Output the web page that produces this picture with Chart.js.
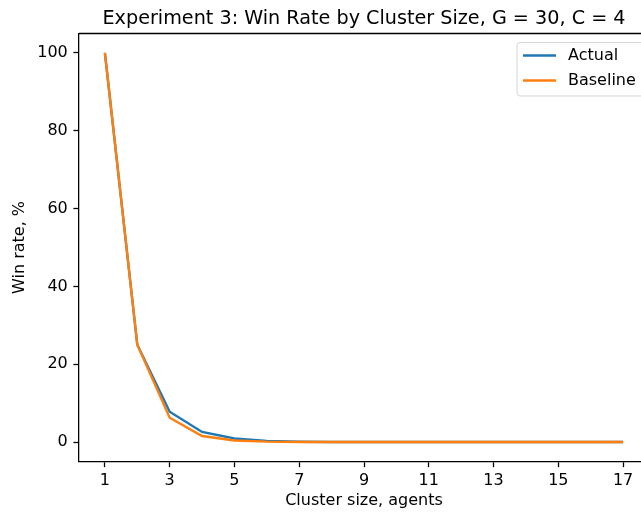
<!DOCTYPE html>
<html>
<head>
<meta charset="utf-8">
<script src="https://cdn.jsdelivr.net/npm/chart.js@4/dist/chart.umd.min.js"></script>
<style>
  html, body { margin: 0; padding: 0; background: #fff; overflow: hidden; }
  #wrap { width: 660px; height: 512px; }
</style>
</head>
<body>
<div id="wrap"><canvas id="c" width="660" height="512"></canvas></div>
<script>
const chartTitle = "Experiment 3: Win Rate by Cluster Size, G = 30, C = 4";
const xLabel = "Cluster size, agents";
const yLabel = "Win rate, %";
const clusterSizes = [1, 2, 3, 4, 5, 6, 7, 8, 9, 10, 11, 12, 13, 14, 15, 16, 17];
const actualRates = [100, 25.0, 7.8, 2.6, 0.9, 0.3, 0.08, 0.02, 0.005, 0, 0, 0, 0, 0, 0, 0, 0];
const baselineRates = [100, 25.0, 6.25, 1.56, 0.39, 0.1, 0.024, 0.006, 0.0015, 0.0004, 0.0001, 0, 0, 0, 0, 0, 0];
const xTicks = [1, 3, 5, 7, 9, 11, 13, 15, 17];
const yTicks = [0, 20, 40, 60, 80, 100];
const seriesNames = ["Actual", "Baseline"];
const seriesColors = ["#1f77b4", "#ff7f0e"];

const FONT = "'DejaVu Sans', 'Liberation Sans', sans-serif";

const toPoints = (ys) => clusterSizes.map((x, i) => ({ x: x, y: ys[i] }));

const frameAndText = {
  id: 'frameAndText',
  afterDatasetsDraw(chart) {
    const ctx = chart.ctx;
    const a = chart.chartArea;
    ctx.save();
    // top and right spines
    ctx.strokeStyle = '#000';
    ctx.lineWidth = 1.28;
    ctx.beginPath();
    ctx.moveTo(a.left, a.top);
    ctx.lineTo(a.right, a.top);
    ctx.lineTo(a.right, a.bottom);
    ctx.stroke();
    // legend
    const bx = 517, by = 42.5, bw = 127, bh = 53.5, r = 3;
    ctx.beginPath();
    ctx.moveTo(bx + r, by);
    ctx.lineTo(bx + bw - r, by);
    ctx.arcTo(bx + bw, by, bx + bw, by + r, r);
    ctx.lineTo(bx + bw, by + bh - r);
    ctx.arcTo(bx + bw, by + bh, bx + bw - r, by + bh, r);
    ctx.lineTo(bx + r, by + bh);
    ctx.arcTo(bx, by + bh, bx, by + bh - r, r);
    ctx.lineTo(bx, by + r);
    ctx.arcTo(bx, by, bx + r, by, r);
    ctx.closePath();
    ctx.fillStyle = 'rgba(255,255,255,0.8)';
    ctx.fill();
    ctx.strokeStyle = 'rgba(204,204,204,0.8)';
    ctx.lineWidth = 1;
    ctx.stroke();
    ctx.font = '16px ' + FONT;
    ctx.textAlign = 'left';
    ctx.textBaseline = 'middle';
    seriesNames.forEach((name, i) => {
      const yy = 55.5 + i * 25;
      ctx.strokeStyle = seriesColors[i];
      ctx.lineWidth = 2.4;
      ctx.beginPath();
      ctx.moveTo(523, yy);
      ctx.lineTo(556, yy);
      ctx.stroke();
      ctx.fillStyle = '#000';
      ctx.fillText(name, 568, yy);
    });
    // title
    ctx.font = '19.2px ' + FONT;
    ctx.textAlign = 'center';
    ctx.textBaseline = 'alphabetic';
    ctx.fillStyle = '#000';
    ctx.fillText(chartTitle, (a.left + a.right) / 2, 24);
    ctx.restore();
  }
};

new Chart(document.getElementById('c'), {
  type: 'line',
  data: {
    datasets: [
      { label: seriesNames[0], data: toPoints(actualRates), borderColor: seriesColors[0], backgroundColor: seriesColors[0], borderWidth: 2.4, pointRadius: 0, tension: 0, fill: false, order: 2 },
      { label: seriesNames[1], data: toPoints(baselineRates), borderColor: seriesColors[1], backgroundColor: seriesColors[1], borderWidth: 2.4, pointRadius: 0, tension: 0, fill: false, order: 1 }
    ]
  },
  options: {
    responsive: false,
    animation: false,
    devicePixelRatio: 1,
    layout: { padding: { top: 33.5, right: 11, left: 0, bottom: 0 } },
    plugins: { legend: { display: false }, tooltip: { enabled: false }, title: { display: false } },
    scales: {
      x: {
        type: 'linear',
        min: 0.2, max: 17.8,
        afterFit(s) { s.height = 50.5; },
        afterBuildTicks(s) { s.ticks = xTicks.map(v => ({ value: v })); },
        grid: { display: true, drawOnChartArea: false, drawTicks: true, tickLength: 5.6, tickWidth: 1.28, tickColor: '#000' },
        border: { display: true, color: '#000', width: 1.28 },
        ticks: { color: '#000', font: { family: FONT, size: 16 }, padding: 3.8, maxRotation: 0, autoSkip: false },
        title: { display: true, text: xLabel, color: '#000', font: { family: FONT, size: 16 }, padding: { top: 0, bottom: 1.2 } }
      },
      y: {
        type: 'linear',
        min: -5, max: 105,
        afterFit(s) { s.width = 79; },
        afterBuildTicks(s) { s.ticks = yTicks.map(v => ({ value: v })); },
        grid: { display: true, drawOnChartArea: false, drawTicks: true, tickLength: 5.6, tickWidth: 1.28, tickColor: '#000' },
        border: { display: true, color: '#000', width: 1.28 },
        ticks: { color: '#000', font: { family: FONT, size: 16 }, padding: 5.6, autoSkip: false },
        title: { display: true, text: yLabel, color: '#000', font: { family: FONT, size: 16 }, padding: { top: 9.9, bottom: 0 } }
      }
    }
  },
  plugins: [frameAndText]
});
</script>
</body>
</html>
